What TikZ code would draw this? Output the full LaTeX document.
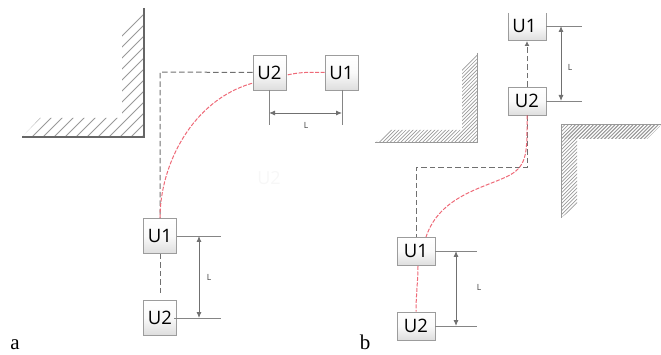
\documentclass[tikz,border=0pt]{standalone}
\usepackage{fontspec}
\setmainfont{Open Sans}
\newfontfamily\capfont{Liberation Serif}
\usetikzlibrary{arrows.meta}
\definecolor{wallc}{HTML}{666666}
\definecolor{hatchc}{HTML}{999999}
\definecolor{linec}{HTML}{858585}
\definecolor{dashc}{HTML}{707070}
\definecolor{redc}{HTML}{EE6A78}
\definecolor{boxc}{HTML}{9C9C9C}
\tikzset{
  unitbox/.style={draw=boxc,line width=0.9pt,top color=white,bottom color=black!13,middle color=black!2,
    minimum width=33pt,minimum height=35pt,inner sep=0pt,font=\fontsize{18.5}{20}\selectfont,text=black},
  unitwide/.style={unitbox,minimum width=38pt,minimum height=28pt},
  pathdash/.style={draw=dashc,line width=1pt,dash pattern=on 5.5pt off 3pt},
  redpath/.style={draw=redc,line width=1pt,dash pattern=on 4pt off 1.5pt},
  tickline/.style={draw=linec,line width=0.9pt},
  dimline/.style={draw=dashc,line width=0.9pt,{Latex[length=6pt,width=5pt]}-{Latex[length=6pt,width=5pt]}},
  dimlabel/.style={font=\fontsize{8.5}{9}\selectfont,text=black!75,inner sep=0pt},
  wall/.style={draw=wallc,line width=1.4pt},
  hatch/.style={draw=hatchc,line width=0.7pt},
  caption/.style={font=\capfont\fontsize{21}{22}\selectfont,inner sep=0pt}
}
\begin{document}
\begin{tikzpicture}[x=1pt,y=-1pt]
\useasboundingbox (0,0) rectangle (661,355);
% ---- panel a wall
\begin{scope}
\clip (122,8) -- (144,8) -- (144,137) -- (22,137) -- (40,118) -- (122,118) -- cycle;
\foreach \k in {0,11,...,330} \draw[hatch,line width=0.9pt] (22+\k-1,137) -- (22+\k+139,-3);
\end{scope}
\draw[wall] (144,8) -- (144,137) -- (22,137);
% ---- panel b walls
\begin{scope}
\clip (477,53) -- (477,143) -- (375,143) -- (391,130) -- (462,130) -- (462,68) -- cycle;
\foreach \k in {0,3.6,...,220} \draw[hatch] (375+\k,143) -- (375+\k+100,43);
\end{scope}
\draw[hatch,line width=1pt] (477,53) -- (477,143) -- (375,143);
\begin{scope}
\clip (661,125) -- (561,125) -- (561,218) -- (577,205) -- (577,139) -- (647,139) -- cycle;
\foreach \k in {0,3.6,...,220} \draw[hatch] (561+\k-100,225) -- (561+\k,125);
\foreach \k in {0,3.6,...,110} \draw[hatch] (561+\k,139) -- (561+\k+14,125);
\end{scope}
\draw[hatch,line width=1pt] (661,125) -- (561,125) -- (561,218);
% ---- panel a units
\node[unitbox] (aU2t) at (269.5,72.5) {U2};
\node[unitbox] (aU1t) at (341.5,72.5) {U1};
\node[unitbox] (aU1b) at (160,236) {U1};
\node[unitbox] (aU2b) at (160,317.5) {U2};
\coordinate (aCorner) at (160,72);
\draw[pathdash] (aU2t.west) -- (aCorner) -- (aU1b.north);
\draw[pathdash] (aU1b.south) -- (160,296) coordinate (aGap);
\draw[redpath] (aU1b.north) .. controls (160,165) and (192,100) .. (253,83);
\draw[redpath] (aU1t.west) .. controls (312,72) and (300,72) .. (287,75);
\coordinate (aL1) at (269,90); \coordinate (aL1e) at (269,125);
\coordinate (aL2) at (342,90); \coordinate (aL2e) at (342,125);
\draw[tickline] (aL1) -- (aL1e);
\draw[tickline] (aL2) -- (aL2e);
\draw[dimline] (269,113) coordinate (aD1) -- (342,113) coordinate (aD2);
\node[dimlabel] (aLt) at (306,125) {L};
\draw[tickline] (aU1b.east) -- (221,236) coordinate (aT1);
\draw[tickline] (174,318) coordinate (aT2s) -- (221,318) coordinate (aT2);
\draw[dimline] (199,236) coordinate (aD3) -- (199,318) coordinate (aD4);
\node[dimlabel] (aLb) at (209,277) {L};
\node[font=\fontsize{18}{20}\selectfont,text=black!3,inner sep=0pt] (ghost) at (269,178) {U2};
\node[caption] (capa) at (15,344.5) {a};
% ---- panel b units
\path[top color=white,bottom color=black!13,middle color=black!2] (508.5,13) rectangle (546,40.5);
\draw[boxc,line width=0.9pt] (508.5,13) -- (508.5,40.5) -- (546,40.5) -- (546,13);
\node[inner sep=0pt,font=\fontsize{18.5}{20}\selectfont] (bU1t) at (524.5,25.5) {U1};
\coordinate (bU1tS) at (527,41);
\node[unitwide] (bU2t) at (527,101) {U2};
\node[unitwide] (bU1b) at (416,251) {U1};
\node[unitwide] (bU2b) at (416,326) {U2};
\draw[pathdash,-{Latex[length=5pt,width=5pt]}] (bU2t.north) -- (bU1tS);
\coordinate (bC1) at (527,168);
\coordinate (bC2) at (416,168);
\draw[pathdash] (bU2t.south) -- (bC1) -- (bC2) -- (bU1b.north);
\draw[redpath] (bU2t.south) .. controls (527,150) and (528,165) .. (510,175)
  .. controls (485,188) and (440,195) .. (426,237);
\draw[redpath] (418,266) .. controls (418,280) and (416,295) .. (bU2b.north);
\draw[tickline] (546,26) coordinate (bT1s) -- (582,26) coordinate (bT1);
\draw[tickline] (bU2t.east) -- (582,101) coordinate (bT2);
\draw[dimline] (561,26) coordinate (bD1) -- (561,101) coordinate (bD2);
\node[dimlabel] (bLt) at (570,67) {L};
\draw[tickline] (bU1b.east) -- (477,251) coordinate (bT3);
\draw[tickline] (bU2b.east) -- (477,326) coordinate (bT4);
\draw[dimline] (456,251) coordinate (bD3) -- (456,326) coordinate (bD4);
\node[dimlabel] (bLb) at (479,287) {L};
\node[caption] (capb) at (365,342.5) {b};
\end{tikzpicture}
\end{document}
